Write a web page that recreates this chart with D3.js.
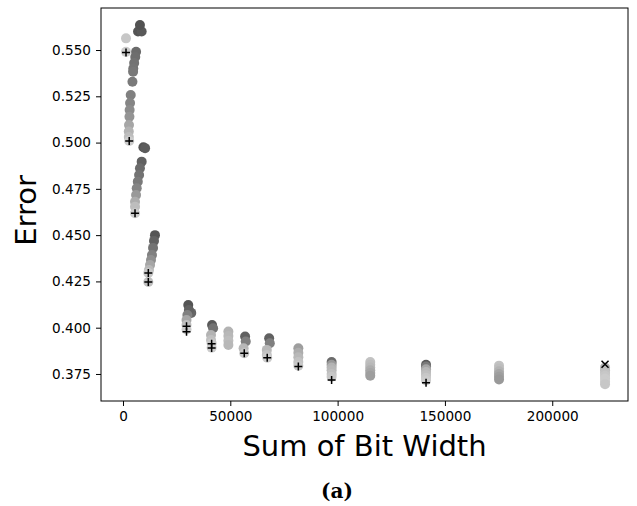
<!DOCTYPE html>
<html>
<head>
<meta charset="utf-8">
<script src="https://cdn.jsdelivr.net/npm/d3@7/dist/d3.min.js"></script>
<style>
  body { margin: 0; background: #fff; }
  svg { display: block; }
</style>
</head>
<body>
<svg width="637" height="506"></svg>
<script>
// scatter points: sum of bit width, error, grey level (0 black .. 1 white)
var sumBits = [
  1400, 1400,
  7000, 8700, 7900,
  6100, 5700, 5200, 4800, 4700, 4400, 3600, 3300, 3100, 3000, 2800, 2700, 2700, 2900,
  9500, 10300, 8700, 7900, 7500, 6900, 6400, 6100, 5600, 5600, 5600,
  14900, 14450, 14000, 13500, 13050, 12600, 12100, 11800, 11800,
  30400, 31800, 30700, 30000, 29600, 29600, 29600,
  41500, 42000, 41000, 41000, 41300, 41300,
  49100, 49100, 49100, 49100,
  56900, 57200, 56200, 56500,
  68100, 68400, 67000, 67000, 67200,
  81700, 81700, 81700, 81700, 81700,
  97200, 97200, 97200, 97200, 97200, 97200,
  115200, 115200, 115200, 115200, 115200, 115200,
  141200, 141200, 141200, 141200, 141200, 141200, 141200,
  175200, 175200, 175200, 175200, 175200, 175200,
  224600, 224600, 224600, 224600, 224600, 224600, 224600
];
var errors = [
  0.5563, 0.5490,
  0.5600, 0.5600, 0.5635,
  0.5491, 0.5462, 0.5430, 0.5400, 0.5383, 0.5329, 0.5257, 0.5214, 0.5176, 0.5140, 0.5095, 0.5060, 0.5030, 0.5009,
  0.4975, 0.4970, 0.4897, 0.4861, 0.4825, 0.4789, 0.4753, 0.4717, 0.4680, 0.4654, 0.4618,
  0.4500, 0.4469, 0.4431, 0.4393, 0.4366, 0.4339, 0.4312, 0.4296, 0.4247,
  0.4123, 0.4080, 0.4096, 0.4069, 0.4042, 0.4015, 0.3990,
  0.4015, 0.3997, 0.3961, 0.3934, 0.3916, 0.3892,
  0.3979, 0.3955, 0.3930, 0.3907,
  0.3952, 0.3925, 0.3889, 0.3862,
  0.3943, 0.3916, 0.3880, 0.3853, 0.3838,
  0.3889, 0.3865, 0.3840, 0.3815, 0.3795,
  0.3815, 0.3800, 0.3785, 0.3770, 0.3750, 0.3735,
  0.3815, 0.3800, 0.3785, 0.3770, 0.3755, 0.3740,
  0.3800, 0.3790, 0.3775, 0.3760, 0.3745, 0.3730, 0.3715,
  0.3795, 0.3780, 0.3765, 0.3750, 0.3735, 0.3720,
  0.3785, 0.3770, 0.3755, 0.3740, 0.3725, 0.3710, 0.3695
];
var shades = [
  0.78, 0.80,
  0.33, 0.35, 0.32,
  0.42, 0.43, 0.45, 0.46, 0.47, 0.48, 0.50, 0.52, 0.55, 0.58, 0.65, 0.70, 0.74, 0.80,
  0.33, 0.36, 0.38, 0.42, 0.45, 0.48, 0.52, 0.60, 0.68, 0.74, 0.80,
  0.33, 0.38, 0.45, 0.50, 0.56, 0.65, 0.72, 0.78, 0.75,
  0.33, 0.40, 0.38, 0.50, 0.65, 0.75, 0.80,
  0.35, 0.45, 0.70, 0.75, 0.78, 0.80,
  0.70, 0.72, 0.74, 0.72,
  0.38, 0.50, 0.72, 0.78,
  0.38, 0.50, 0.72, 0.76, 0.80,
  0.62, 0.68, 0.72, 0.76, 0.78,
  0.42, 0.60, 0.70, 0.72, 0.75, 0.78,
  0.76, 0.74, 0.72, 0.68, 0.65, 0.62,
  0.35, 0.48, 0.65, 0.72, 0.75, 0.78, 0.80,
  0.76, 0.74, 0.70, 0.65, 0.62, 0.60,
  0.70, 0.74, 0.76, 0.78, 0.80, 0.80, 0.78
];

// "+" markers and the single "x" marker
var plusBits = [1400, 2900, 5600, 11800, 11800, 29600, 29600, 41300, 41300, 56500, 67200, 81700, 97200, 141200];
var plusErrors = [0.5487, 0.5009, 0.4618, 0.4296, 0.4247, 0.4008, 0.3978, 0.3913, 0.3890, 0.3862, 0.3838, 0.3790, 0.3718, 0.3703];
var crossBits = [224600];
var crossErrors = [0.3803];

var xTicks = [0, 50000, 100000, 150000, 200000];
var yTicks = [0.375, 0.400, 0.425, 0.450, 0.475, 0.500, 0.525, 0.550];

var svg = d3.select("svg"),
    margin = {top: 8, right: 9, bottom: 105, left: 101},
    width = +svg.attr("width") - margin.left - margin.right,
    height = +svg.attr("height") - margin.top - margin.bottom,
    g = svg.append("g").attr("transform", "translate(" + margin.left + "," + margin.top + ")");

var x = d3.scaleLinear()
    .domain([-10250, 235300])
    .range([0, width]);

var y = d3.scaleLinear()
    .domain([0.3604, 0.5727])
    .range([height, 0]);

var grey = d3.scaleLinear()
    .domain([0, 1])
    .range(["#000000", "#ffffff"]);

var points = sumBits.map(function(d, i) {
  return {bits: d, error: errors[i], shade: shades[i]};
});

g.append("g")
    .selectAll("circle")
    .data(points)
  .enter().append("circle")
    .attr("cx", function(d) { return x(d.bits); })
    .attr("cy", function(d) { return y(d.error); })
    .attr("r", 5)
    .attr("fill", function(d) { return grey(d.shade); });

g.append("g")
    .selectAll("path")
    .data(plusBits)
  .enter().append("path")
    .attr("transform", function(d, i) { return "translate(" + x(d) + "," + y(plusErrors[i]) + ")"; })
    .attr("d", "M-4,0H4M0,-4V4")
    .attr("stroke", "#000")
    .attr("stroke-width", 1.5)
    .attr("fill", "none");

g.append("g")
    .selectAll("path")
    .data(crossBits)
  .enter().append("path")
    .attr("transform", function(d, i) { return "translate(" + x(d) + "," + y(crossErrors[i]) + ")"; })
    .attr("d", "M-3.5,-3.5L3.5,3.5M-3.5,3.5L3.5,-3.5")
    .attr("stroke", "#000")
    .attr("stroke-width", 1.5)
    .attr("fill", "none");

var xAxis = g.append("g")
    .attr("transform", "translate(0," + height + ")")
    .call(d3.axisBottom(x).tickValues(xTicks).tickFormat(d3.format("d")).tickSize(5).tickPadding(5));

var yAxis = g.append("g")
    .call(d3.axisLeft(y).tickValues(yTicks).tickFormat(d3.format(".3f")).tickSize(5).tickPadding(5));

[xAxis, yAxis].forEach(function(a) {
  a.select(".domain").remove();
  a.selectAll("text")
      .attr("fill", "#000")
      .style("font-family", "DejaVu Sans")
      .style("font-size", "13.6px");
  a.selectAll("line").attr("stroke", "#000").attr("stroke-width", 1);
});

g.append("rect")
    .attr("width", width)
    .attr("height", height)
    .attr("fill", "none")
    .attr("stroke", "#000")
    .attr("stroke-width", 1);

g.append("text")
    .attr("x", width / 2)
    .attr("y", height + 55)
    .attr("text-anchor", "middle")
    .style("font-family", "DejaVu Sans")
    .style("font-size", "29px")
    .text("Sum of Bit Width");

g.append("text")
    .attr("transform", "rotate(-90)")
    .attr("x", -height / 2 - 6)
    .attr("y", -65)
    .attr("text-anchor", "middle")
    .style("font-family", "DejaVu Sans")
    .style("font-size", "29px")
    .text("Error");

svg.append("text")
    .attr("x", 337)
    .attr("y", 498)
    .attr("text-anchor", "middle")
    .style("font-family", "DejaVu Serif")
    .style("font-weight", "bold")
    .style("font-size", "20px")
    .text("(a)");
</script>
</body>
</html>
